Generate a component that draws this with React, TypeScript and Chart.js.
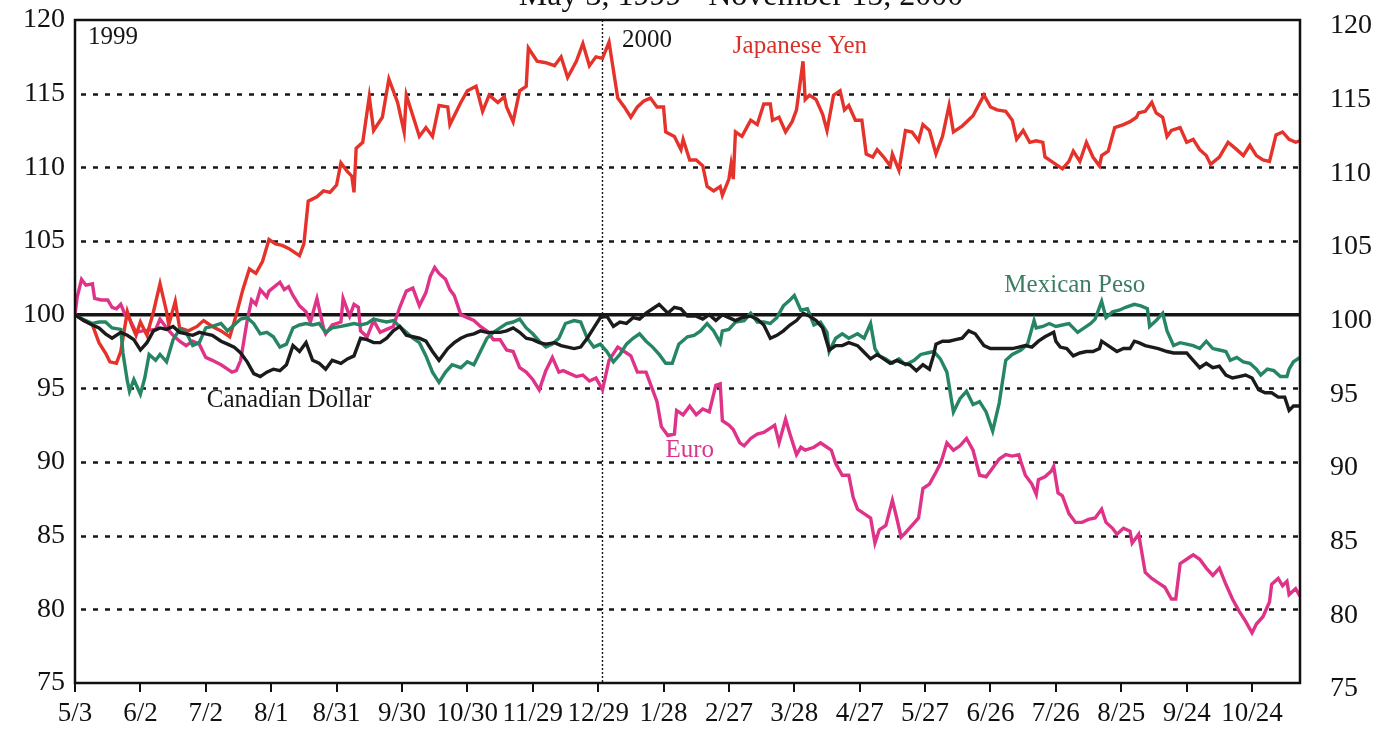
import React, { useEffect, useRef } from "react";
import { Chart, registerables } from "chart.js";

Chart.register(...registerables);

// ---- axis data ----
const xTickLabels = ["5/3", "6/2", "7/2", "8/1", "8/31", "9/30", "10/30", "11/29", "12/29", "1/28", "2/27", "3/28", "4/27", "5/27", "6/26", "7/26", "8/25", "9/24", "10/24"];
const xTickDays = [0, 30, 60, 90, 120, 150, 180, 210, 240, 270, 300, 330, 360, 390, 420, 450, 480, 510, 540];
const lastDay = 562; // Nov 15, 2000 counted in days from May 3, 1999
const yearBreakDay = 242; // Dec 31, 1999
const dottedGridValues = [80, 85, 90, 95, 105, 110, 115];
const baseLineValue = 100;
const titleText = "May 3, 1999 - November 15, 2000";

// ---- series (day offset from 5/3/1999, index value) ----
const yenDays = [0, 4, 8, 11, 14, 16, 19, 21, 24, 26, 28, 30, 33, 36, 39, 42, 43, 46, 48, 52, 56, 59, 63, 67, 71, 74, 77, 80, 83, 86, 89, 92, 95, 98, 103, 105, 107, 111, 114, 117, 120, 122, 125, 127, 128, 129, 132, 135, 137, 141, 144, 148, 151, 152, 155, 158, 161, 164, 167, 171, 172, 177, 180, 184, 187, 190, 194, 197, 198, 201, 204, 207, 208, 212, 216, 220, 223, 226, 230, 233, 236, 239, 242, 245, 249, 252, 255, 258, 261, 264, 267, 270, 271, 275, 278, 279, 282, 285, 288, 290, 293, 296, 297, 300, 301, 302, 303, 306, 310, 313, 316, 319, 320, 323, 326, 329, 331, 334, 335, 337, 340, 343, 345, 348, 351, 353, 355, 358, 361, 363, 366, 368, 371, 374, 375, 378, 381, 384, 387, 389, 392, 395, 398, 401, 403, 407, 412, 417, 420, 423, 427, 430, 432, 435, 438, 441, 444, 445, 448, 453, 456, 458, 461, 464, 467, 470, 471, 474, 477, 481, 484, 487, 488, 491, 494, 496, 499, 501, 503, 507, 510, 513, 516, 519, 521, 525, 529, 533, 536, 539, 542, 545, 548, 551, 554, 557, 560, 562];
const yenValues = [100, 99.6, 99.3, 98.1, 97.4, 96.8, 96.7, 97.5, 100.2, 99.3, 98.6, 99.5, 98.6, 100.2, 102.1, 100.2, 99.3, 100.9, 99.1, 98.9, 99.2, 99.6, 99.2, 98.9, 98.5, 100, 101.7, 103.1, 102.8, 103.6, 105.1, 104.8, 104.7, 104.5, 104, 104.8, 107.7, 108, 108.4, 108.3, 108.8, 110.3, 109.7, 109.4, 108.3, 111.3, 111.7, 114.8, 112.5, 113.4, 116, 114.4, 112.4, 114.9, 113.5, 112.1, 112.7, 112.1, 114.2, 114.1, 112.9, 114.4, 115.2, 115.5, 113.8, 114.9, 114.4, 114.8, 114.1, 113.1, 115.2, 115.5, 118.1, 117.2, 117.1, 116.9, 117.5, 116.1, 117.2, 118.4, 116.9, 117.5, 117.4, 118.5, 114.7, 114.1, 113.4, 114.1, 114.5, 114.7, 114.1, 114.1, 112.4, 112.1, 111.2, 111.9, 110.5, 110.5, 110.1, 108.7, 108.4, 108.7, 108.1, 109.2, 110.2, 109.2, 112.4, 112.1, 113.2, 112.9, 114.3, 114.3, 113.2, 113.4, 112.4, 113.1, 113.9, 117.2, 114.6, 114.9, 114.6, 113.6, 112.5, 114.9, 115.2, 113.9, 114.2, 113.2, 113.2, 110.9, 110.7, 111.2, 110.7, 110.1, 110.9, 109.8, 112.5, 112.4, 111.8, 112.9, 112.5, 110.9, 112.1, 114.2, 112.4, 112.8, 113.5, 114.9, 114.1, 113.9, 113.8, 113.2, 111.9, 112.5, 111.7, 111.8, 111.7, 110.7, 110.4, 109.9, 110.4, 111.1, 110.4, 111.7, 110.7, 110.1, 110.8, 111.1, 112.7, 112.9, 113.1, 113.4, 113.7, 113.8, 114.4, 113.7, 113.4, 112.1, 112.5, 112.7, 111.7, 111.9, 111.2, 110.8, 110.2, 110.7, 111.7, 111.2, 110.8, 111.5, 110.8, 110.5, 110.4, 112.2, 112.4, 111.9, 111.7, 111.8];

const euroDays = [0, 1, 3, 5, 8, 9, 12, 15, 17, 19, 21, 23, 25, 28, 31, 37, 39, 42, 45, 48, 51, 54, 57, 60, 63, 67, 70, 72, 74, 76, 79, 81, 83, 85, 88, 89, 94, 96, 98, 100, 103, 106, 108, 111, 114, 115, 118, 122, 123, 126, 128, 130, 131, 134, 137, 140, 143, 146, 149, 152, 155, 158, 161, 163, 165, 167, 170, 172, 174, 177, 180, 183, 186, 189, 192, 195, 198, 201, 204, 207, 210, 213, 216, 219, 222, 224, 227, 230, 233, 236, 239, 242, 245, 249, 252, 255, 258, 262, 265, 267, 269, 272, 275, 276, 279, 282, 285, 288, 291, 294, 296, 297, 300, 302, 303, 305, 307, 310, 313, 316, 319, 321, 323, 326, 328, 331, 333, 335, 339, 342, 345, 347, 349, 352, 355, 357, 359, 362, 365, 367, 369, 372, 375, 377, 379, 381, 384, 387, 389, 392, 395, 397, 398, 400, 403, 406, 409, 412, 415, 418, 421, 424, 427, 430, 433, 434, 436, 439, 441, 442, 445, 448, 449, 451, 453, 456, 459, 462, 465, 468, 471, 473, 476, 478, 481, 484, 485, 488, 491, 494, 497, 500, 503, 505, 507, 510, 513, 516, 519, 522, 525, 528, 531, 534, 537, 540, 542, 545, 548, 549, 552, 554, 556, 557, 560, 562];
const euroValues = [100, 101.2, 102.4, 102, 102.1, 101.1, 101, 101, 100.5, 100.4, 100.7, 100, 99.7, 98.8, 98.9, 99, 99.7, 99.1, 98.6, 98.2, 97.9, 98.2, 98, 97.1, 96.9, 96.6, 96.3, 96.1, 96.2, 96.9, 99.6, 101, 100.7, 101.7, 101.2, 101.6, 102.2, 101.7, 101.9, 101.3, 100.6, 100.2, 99.5, 101.1, 99.1, 98.7, 99.3, 99.5, 101.1, 99.9, 100.7, 100.5, 98.9, 98.5, 99.6, 98.8, 99, 99.2, 100.5, 101.6, 101.8, 100.6, 101.5, 102.6, 103.2, 102.8, 102.4, 101.7, 101.3, 100, 99.8, 99.6, 99.2, 98.9, 98.3, 98.3, 97.6, 97.5, 96.4, 96.1, 95.6, 94.9, 96.2, 97.1, 96.1, 96.2, 96, 95.8, 95.9, 95.5, 95.7, 94.9, 96.9, 97.8, 97.5, 97.2, 96.1, 96.1, 94.9, 94.1, 92.4, 91.8, 91.9, 93.5, 93.2, 93.8, 93.2, 93.6, 93.4, 95.2, 95.3, 92.8, 92.5, 92.2, 91.9, 91.3, 91.1, 91.6, 91.9, 92, 92.3, 92.5, 91.3, 92.9, 91.9, 90.5, 91, 90.8, 91, 91.3, 91, 90.8, 89.9, 89.1, 89.1, 87.6, 86.8, 86.5, 86.2, 84.5, 85.4, 85.7, 87.4, 86.2, 84.9, 85.2, 85.7, 86.2, 88.2, 88.5, 89.3, 89.9, 90.3, 91.3, 90.8, 91.1, 91.6, 90.8, 89.1, 89, 89.6, 90.2, 90.5, 90.4, 90.5, 90, 89.1, 88.5, 87.8, 88.8, 89, 89.4, 89.7, 87.9, 87.7, 86.5, 85.9, 85.9, 86.1, 86.2, 86.8, 85.9, 85.5, 85.1, 85.5, 85.3, 84.5, 85.1, 82.5, 82.1, 81.8, 81.5, 80.7, 80.7, 83.1, 83.4, 83.7, 83.4, 82.8, 82.3, 82.8, 81.7, 80.7, 79.9, 79.2, 78.4, 79, 79.5, 80.5, 81.7, 82.1, 81.6, 81.9, 81, 81.4, 80.9];

const cadDays = [0, 4, 8, 11, 14, 17, 21, 24, 27, 30, 33, 36, 39, 42, 45, 48, 51, 54, 57, 60, 63, 67, 70, 73, 76, 79, 82, 85, 88, 91, 94, 97, 100, 103, 106, 109, 112, 115, 118, 122, 125, 128, 131, 134, 137, 140, 143, 146, 149, 152, 155, 158, 161, 164, 167, 171, 174, 177, 180, 183, 186, 189, 192, 195, 198, 201, 204, 207, 210, 213, 216, 220, 223, 226, 229, 232, 235, 238, 241, 244, 247, 250, 253, 256, 259, 262, 265, 268, 272, 275, 278, 281, 285, 288, 291, 294, 297, 300, 303, 306, 310, 313, 316, 319, 322, 325, 328, 331, 334, 337, 340, 343, 346, 349, 352, 355, 359, 361, 365, 368, 371, 374, 377, 380, 383, 386, 389, 392, 394, 395, 398, 401, 404, 407, 410, 413, 417, 420, 423, 427, 430, 433, 436, 439, 442, 445, 449, 450, 452, 455, 458, 461, 464, 467, 470, 471, 474, 478, 481, 484, 486, 488, 491, 494, 497, 501, 504, 507, 510, 513, 516, 519, 522, 525, 528, 531, 534, 537, 540, 543, 546, 549, 552, 555, 557, 559, 562];
const cadValues = [100, 99.6, 99.3, 99.1, 98.7, 98.4, 98.8, 98.6, 98.3, 97.6, 98.1, 98.9, 99.1, 99, 99.2, 98.8, 98.7, 98.6, 98.8, 98.7, 98.6, 98.2, 98, 97.8, 97.4, 96.8, 96, 95.8, 96.1, 96.3, 96.2, 96.6, 97.9, 97.5, 98.1, 96.9, 96.7, 96.3, 96.9, 96.7, 97, 97.2, 98.4, 98.3, 98.1, 98.1, 98.4, 98.9, 99.2, 98.6, 98.5, 98.4, 98.2, 97.5, 96.9, 97.7, 98.1, 98.4, 98.6, 98.7, 98.9, 98.8, 98.8, 98.8, 98.9, 99.1, 98.8, 98.4, 98.3, 98.1, 98, 98.1, 97.9, 97.8, 97.7, 97.8, 98.4, 99.1, 99.8, 99.9, 99.2, 99.5, 99.4, 99.8, 99.7, 100.1, 100.4, 100.7, 100.1, 100.5, 100.4, 99.9, 99.9, 99.7, 100, 99.6, 100, 99.8, 99.6, 99.8, 99.9, 99.7, 99.3, 98.4, 98.6, 98.9, 99.3, 99.6, 100.1, 99.9, 99.6, 99.1, 97.6, 97.9, 97.9, 98.1, 97.9, 97.6, 97, 97.3, 97, 96.7, 96.9, 96.7, 96.6, 96.2, 96.6, 96.3, 97.3, 98, 98.2, 98.2, 98.3, 98.4, 98.9, 98.7, 97.9, 97.7, 97.7, 97.7, 97.7, 97.8, 97.9, 97.8, 98.2, 98.5, 98.8, 98.2, 97.8, 97.7, 97.2, 97.4, 97.5, 97.5, 97.7, 98.2, 97.9, 97.5, 97.7, 97.7, 98.2, 98.1, 97.9, 97.8, 97.7, 97.5, 97.4, 97.4, 97.4, 96.9, 96.4, 96.7, 96.4, 96.5, 95.9, 95.7, 95.8, 95.9, 95.7, 94.9, 94.7, 94.7, 94.4, 94.4, 93.5, 93.8, 93.8];

const pesoDays = [0, 2, 5, 8, 11, 14, 17, 21, 22, 24, 25, 27, 30, 32, 34, 37, 39, 42, 45, 48, 51, 54, 57, 60, 63, 67, 70, 73, 76, 79, 82, 85, 88, 91, 94, 97, 100, 103, 106, 109, 112, 115, 118, 122, 125, 128, 131, 134, 137, 140, 143, 146, 149, 152, 155, 158, 161, 164, 167, 170, 173, 177, 180, 183, 186, 189, 192, 195, 198, 201, 204, 207, 210, 213, 216, 219, 222, 225, 229, 232, 235, 238, 241, 244, 247, 250, 253, 256, 259, 262, 265, 268, 271, 274, 277, 281, 284, 287, 290, 293, 296, 297, 300, 303, 307, 310, 313, 316, 319, 322, 325, 328, 330, 333, 336, 339, 342, 345, 346, 349, 352, 355, 359, 362, 365, 367, 369, 372, 375, 378, 381, 385, 388, 391, 394, 397, 400, 403, 406, 409, 412, 415, 418, 421, 424, 427, 430, 434, 437, 440, 441, 444, 447, 450, 453, 456, 460, 463, 466, 468, 471, 473, 476, 479, 482, 486, 489, 492, 493, 496, 499, 501, 504, 507, 510, 513, 516, 519, 522, 525, 528, 530, 533, 536, 539, 542, 544, 547, 550, 553, 556, 557, 559, 562];
const pesoValues = [100, 99.8, 99.6, 99.4, 99.5, 99.5, 99.1, 99, 97.4, 95.5, 94.8, 95.6, 94.6, 95.7, 97.3, 96.9, 97.3, 96.8, 98.3, 99, 98.8, 97.9, 98.1, 99.1, 99.2, 99.4, 98.9, 99.3, 99.7, 99.8, 99.4, 98.7, 98.8, 98.5, 97.8, 98, 99.1, 99.3, 99.4, 99.3, 99.4, 98.8, 99.1, 99.2, 99.3, 99.4, 99.3, 99.4, 99.7, 99.6, 99.5, 99.6, 99.2, 98.8, 98.4, 98.1, 97.2, 96.1, 95.4, 96.1, 96.6, 96.4, 96.8, 96.6, 97.5, 98.4, 98.8, 99.1, 99.4, 99.5, 99.7, 99.1, 98.7, 98.2, 97.8, 98, 98.4, 99.4, 99.6, 99.5, 98.4, 97.8, 98, 97.5, 96.8, 97.3, 98, 98.4, 98.7, 98.2, 97.8, 97.3, 96.7, 96.7, 98, 98.5, 98.6, 98.9, 99.4, 98.9, 98.1, 98.9, 99, 99.5, 99.6, 100.1, 99.5, 99.5, 99.4, 99.8, 100.6, 101, 101.3, 100.3, 100.4, 99.3, 99.5, 98.8, 97.5, 98.4, 98.7, 98.4, 98.7, 98.4, 99.4, 97.7, 97.2, 97, 96.7, 97, 96.6, 96.9, 97.3, 97.4, 97.5, 97, 96.1, 93.4, 94.3, 94.8, 93.9, 94.1, 93.4, 92.1, 94, 96.9, 97.3, 97.6, 98, 99.6, 99.1, 99.2, 99.4, 99.2, 99.3, 99.4, 98.8, 99.1, 99.4, 99.7, 100.9, 99.8, 100.2, 100.3, 100.5, 100.7, 100.6, 100.4, 99.2, 99.6, 100.1, 98.9, 97.9, 98.1, 98, 97.9, 97.7, 98.2, 97.7, 97.6, 97.5, 96.9, 97.1, 96.8, 96.7, 96.3, 95.9, 96.3, 96.2, 95.8, 95.8, 96.3, 96.8, 97.1];

// ---- text labels inside the plot ----
const noteTexts = ["1999", "2000", "Japanese Yen", "Mexican Peso", "Canadian Dollar", "Euro"];
const noteDays = [6, 251, 332.6, 458.7, 98.2, 282];
const noteValues = [118.8, 118.6, 118.2, 102.0, 94.2, 90.8];
const noteAligns = ["left", "left", "center", "center", "center", "center"];
const noteColors = ["#151515", "#151515", "#d8322b", "#3c7d63", "#151515", "#d8378c"];

const SERIF = "'Liberation Serif', 'Times New Roman', serif";

const toPoints = (days: number[], values: number[]) => days.map((d, i) => ({ x: d, y: values[i] }));

const decorPlugin = {
  id: "decor",
  beforeDatasetsDraw(chart: any) {
    const { ctx, chartArea, scales } = chart;
    const { left, right, top, bottom } = chartArea;
    const x = scales.x;
    const y = scales.y;
    ctx.save();
    ctx.strokeStyle = "#161616";
    ctx.lineWidth = 2.4;
    ctx.setLineDash([5, 7]);
    dottedGridValues.forEach((v) => {
      const py = Math.round(y.getPixelForValue(v)) + 0.5;
      ctx.beginPath();
      ctx.moveTo(left + 6, py);
      ctx.lineTo(right, py);
      ctx.stroke();
    });
    ctx.lineWidth = 1.4;
    ctx.setLineDash([2, 2]);
    const vx = x.getPixelForValue(yearBreakDay);
    ctx.beginPath();
    ctx.moveTo(vx, top);
    ctx.lineTo(vx, bottom);
    ctx.stroke();
    ctx.setLineDash([]);
    ctx.lineWidth = 3.5;
    const by = y.getPixelForValue(baseLineValue);
    ctx.beginPath();
    ctx.moveTo(left, by);
    ctx.lineTo(right, by);
    ctx.stroke();
    ctx.restore();
  },
  afterDatasetsDraw(chart: any) {
    const { ctx, chartArea, scales } = chart;
    const { left, right, top, bottom } = chartArea;
    ctx.save();
    ctx.setLineDash([]);
    ctx.strokeStyle = "#111";
    ctx.lineWidth = 2.5;
    ctx.strokeRect(left, top, right - left, bottom - top);
    ctx.textBaseline = "middle";
    ctx.font = `25px ${SERIF}`;
    noteTexts.forEach((t, i) => {
      ctx.fillStyle = noteColors[i];
      ctx.textAlign = noteAligns[i];
      ctx.fillText(t, scales.x.getPixelForValue(noteDays[i]), scales.y.getPixelForValue(noteValues[i]));
    });
    ctx.fillStyle = "#111";
    ctx.textAlign = "center";
    ctx.textBaseline = "alphabetic";
    ctx.font = `32px ${SERIF}`;
    ctx.fillText(titleText, 741, 5);
    ctx.restore();
  },
};

export default function App() {
  const canvasRef = useRef<HTMLCanvasElement | null>(null);

  useEffect(() => {
    if (!canvasRef.current) return;
    const lineStyle = (color: string) => ({
      borderColor: color,
      backgroundColor: color,
      borderWidth: 3.4,
      pointRadius: 0,
      tension: 0,
      fill: false,
    });
    const chart = new Chart(canvasRef.current, {
      type: "line",
      data: {
        datasets: [
          { label: "Canadian Dollar", data: toPoints(cadDays, cadValues), ...lineStyle("#1b1b1b") },
          { label: "Mexican Peso", data: toPoints(pesoDays, pesoValues), ...lineStyle("#268562") },
          { label: "Japanese Yen", data: toPoints(yenDays, yenValues), ...lineStyle("#e5322a") },
          { label: "Euro", data: toPoints(euroDays, euroValues), ...lineStyle("#df338a") },
        ],
      },
      options: {
        animation: false,
        responsive: true,
        maintainAspectRatio: false,
        layout: { padding: { top: 20, left: 0, right: 0, bottom: 0 } },
        plugins: { legend: { display: false }, tooltip: { enabled: false }, title: { display: false } },
        scales: {
          x: {
            type: "linear",
            min: 0,
            max: lastDay,
            afterBuildTicks: (scale: any) => {
              scale.ticks = xTickDays.map((v) => ({ value: v }));
            },
            afterFit: (scale: any) => {
              scale.height = 63;
              scale.paddingLeft = 0;
              scale.paddingRight = 0;
            },
            grid: { display: true, drawOnChartArea: false, drawTicks: true, tickLength: 9, lineWidth: 2, color: "#111" },
            border: { display: false },
            ticks: {
              autoSkip: false,
              maxRotation: 0,
              minRotation: 0,
              padding: 6,
              color: "#111",
              font: { family: SERIF, size: 27 },
              callback: (v: any) => {
                const idx = xTickDays.indexOf(Number(v));
                return idx >= 0 ? xTickLabels[idx] : "";
              },
            },
          },
          y: {
            position: "left",
            min: 75,
            max: 120,
            afterFit: (scale: any) => {
              scale.width = 75;
              scale.paddingTop = 0;
              scale.paddingBottom = 0;
            },
            grid: { display: false, drawTicks: false },
            border: { display: false },
            ticks: { stepSize: 5, padding: 10, color: "#111", font: { family: SERIF, size: 28 } },
          },
          y2: {
            position: "right",
            min: 75,
            max: 120,
            afterFit: (scale: any) => {
              scale.width = 97;
              scale.paddingTop = 0;
              scale.paddingBottom = 0;
            },
            grid: { display: false, drawTicks: false },
            border: { display: false },
            ticks: { stepSize: 5, padding: 30, labelOffset: 6, color: "#111", font: { family: SERIF, size: 28 } },
          },
        },
      },
      plugins: [decorPlugin],
    } as any);
    return () => chart.destroy();
  }, []);

  return (
    <div style={{ position: "fixed", left: 0, top: 0, width: 1397, height: 746, background: "#fff" }}>
      <canvas ref={canvasRef} />
    </div>
  );
}
